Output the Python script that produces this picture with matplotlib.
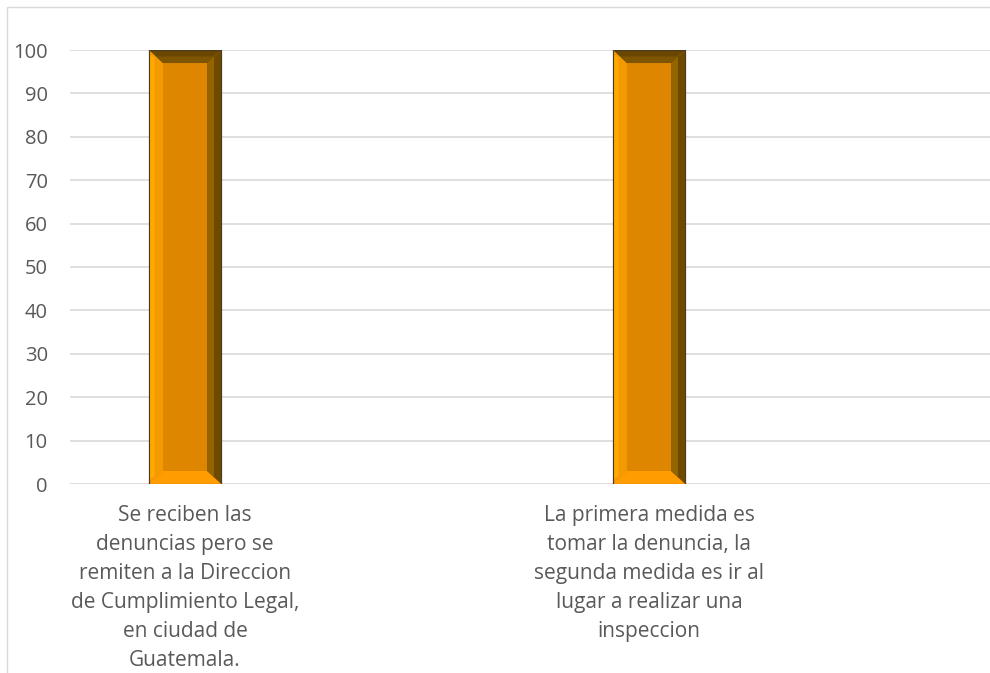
import matplotlib
matplotlib.use("Agg")
import matplotlib.pyplot as plt
from matplotlib.patches import Polygon, Rectangle

categories = [
    "Se reciben las\ndenuncias pero se\nremiten a la Direccion\nde Cumplimiento Legal,\nen ciudad de\nGuatemala.",
    "La primera medida es\ntomar la denuncia, la\nsegunda medida es ir al\nlugar a realizar una\ninspeccion",
]
values = [100, 100]
yticks = [0, 10, 20, 30, 40, 50, 60, 70, 80, 90, 100]

plt.rcParams['font.family'] = ['Open Sans', 'DejaVu Sans']

W, H = 990, 673
fig = plt.figure(figsize=(W / 100, H / 100), dpi=100)
fig.patch.set_facecolor("white")

# chart border (partially cropped)
fig.add_artist(Rectangle((7 / W, -0.1), 1.2, (H - 7) / H + 0.1, transform=fig.transFigure,
                         fill=False, edgecolor="#d9d9d9", linewidth=1.0))

ax = fig.add_axes([70 / W, 1 - 484 / H, (W - 70) / W, (484 - 50) / H])
ax.set_ylim(0, 100)
ax.set_xlim(-0.248, 1.735)
for s in ax.spines.values():
    s.set_visible(False)
ax.set_yticks(yticks)
ax.set_yticklabels([str(v) for v in yticks])
ax.yaxis.grid(True, color="#d9d9d9", linewidth=1.2)
ax.set_axisbelow(True)
ax.tick_params(axis="y", length=0, pad=16, labelsize=14.5, labelcolor="#595959")
ax.tick_params(axis="x", length=0, pad=15, labelsize=15, labelcolor="#595959")
xs = list(range(len(categories)))
ax.set_xticks(xs)
ax.set_xticklabels(categories, linespacing=1.5)

bw = 0.155
bars = ax.bar(xs, values, width=bw, color="#de8600", edgecolor="#5a4a30", linewidth=0.8, zorder=3)

bx = 0.03   # horizontal bevel in data units
byv = 3.0   # vertical bevel in data units
for rect in bars:
    x0 = rect.get_x()
    x1 = x0 + rect.get_width()
    y0 = rect.get_y()
    y1 = y0 + rect.get_height()
    faces = [
        ([(x0, y0), (x0 + bx, y0 + byv), (x0 + bx, y1 - byv), (x0, y1)], "#f49a00"),  # left
        ([(x1, y0), (x1 - bx, y0 + byv), (x1 - bx, y1 - byv), (x1, y1)], "#6e4a00"),  # right
        ([(x0, y1), (x0 + bx, y1 - byv), (x1 - bx, y1 - byv), (x1, y1)], "#6a4700"),  # top
        ([(x0, y0), (x0 + bx, y0 + byv), (x1 - bx, y0 + byv), (x1, y0)], "#ff9c00"),  # bottom
    ]
    for pts, c in faces:
        ax.add_patch(Polygon(pts, closed=True, facecolor=c, edgecolor="none", zorder=4))
    # soft gradient strips on the bevels
    ax.add_patch(Polygon([(x0, y0 + byv * 0.3), (x0 + bx * 0.4, y0 + byv * 0.6),
                          (x0 + bx * 0.4, y1 - byv * 0.6), (x0, y1 - byv * 0.3)],
                         closed=True, facecolor="#ffa800", edgecolor="none", zorder=4))
    ax.add_patch(Polygon([(x1 - bx, y0 + byv), (x1 - bx * 0.5, y0 + byv * 0.5),
                          (x1 - bx * 0.5, y1 - byv * 0.5), (x1 - bx, y1 - byv)],
                         closed=True, facecolor="#946400", edgecolor="none", zorder=4))
    ax.add_patch(Polygon([(x0 + bx, y1 - byv), (x0 + bx * 0.5, y1 - byv * 0.5),
                          (x1 - bx * 0.5, y1 - byv * 0.5), (x1 - bx, y1 - byv)],
                         closed=True, facecolor="#7e5500", edgecolor="none", zorder=4))
    ax.add_patch(Rectangle((x0, y0), x1 - x0, y1 - y0, fill=False, edgecolor="#4a3a20",
                           linewidth=0.8, zorder=5))

fig.savefig("out.png", dpi=100)
